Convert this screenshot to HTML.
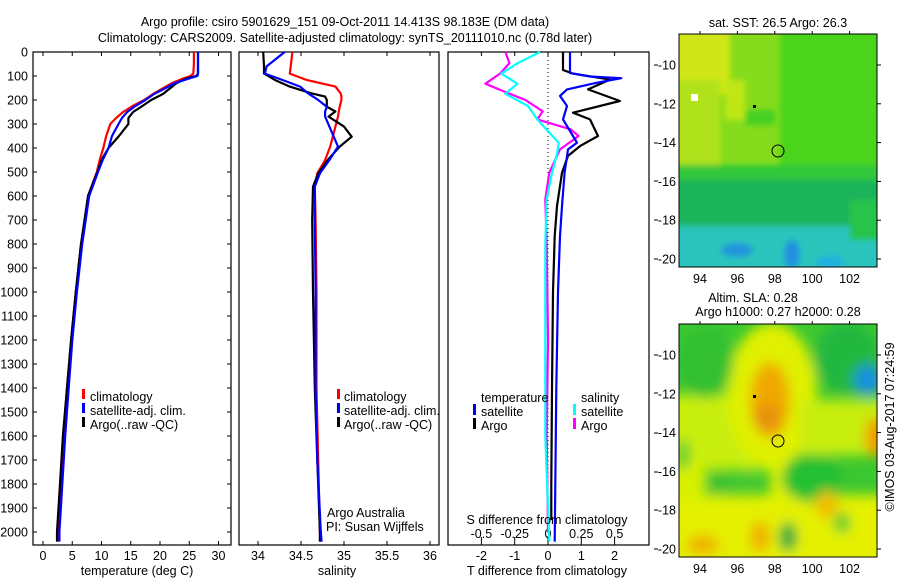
<!DOCTYPE html>
<html><head><meta charset="utf-8"><style>
html,body{margin:0;padding:0;background:#fff;}
svg{display:block;font-family:"Liberation Sans",sans-serif;}
text{font-size:12.5px;fill:#000;}
</style></head><body>
<svg id="chart" width="900" height="580" viewBox="0 0 900 580">
<defs>
<filter id="blur6" filterUnits="userSpaceOnUse" x="600" y="0" width="300" height="580"><feGaussianBlur stdDeviation="6"/></filter>
<filter id="blur3" filterUnits="userSpaceOnUse" x="600" y="0" width="300" height="580"><feGaussianBlur stdDeviation="3"/></filter>
<clipPath id="clipTop"><rect x="679" y="34" width="198" height="233"/></clipPath>
<clipPath id="clipBot"><rect x="679" y="324" width="198" height="233"/></clipPath>
</defs>
<text x="345" y="26" text-anchor="middle">Argo profile: csiro 5901629_151 09-Oct-2011 14.413S 98.183E (DM data)</text>
<text x="345" y="42" text-anchor="middle">Climatology: CARS2009. Satellite-adjusted climatology: synTS_20111010.nc (0.78d later)</text>
<g id="axes"></g>
<g id="series"></g>

<!-- top map -->
<g clip-path="url(#clipTop)">
<rect x="679" y="34" width="198" height="233" fill="#86dc1c"/>
<g filter="url(#blur3)">
<rect x="780" y="20" width="110" height="150" fill="#4cd41c"/>
<rect x="665" y="20" width="65" height="75" fill="#d0e614"/>
<rect x="665" y="80" width="55" height="100" fill="#b0e21a"/>
<rect x="725" y="80" width="20" height="40" fill="#c0e618"/>
<rect x="745" y="110" width="30" height="15" fill="#44d020"/>
<rect x="665" y="165" width="230" height="18" fill="#32c83a"/>
<rect x="665" y="180" width="230" height="50" fill="#1eb45a"/>
<rect x="665" y="226" width="230" height="60" fill="#2cc4bc"/>
<rect x="850" y="200" width="40" height="40" fill="#26c44a"/>
<ellipse cx="737" cy="250" rx="16" ry="7" fill="#2496dc"/>
<ellipse cx="792" cy="254" rx="8" ry="14" fill="#2090e0"/>
<ellipse cx="830" cy="262" rx="14" ry="6" fill="#20b0e0"/>
</g>
<rect x="691" y="94" width="7" height="7" fill="#fff"/>
</g>
<rect x="679" y="34" width="198" height="233" fill="none" stroke="#000"/>
<circle cx="778" cy="151" r="6" fill="none" stroke="#000"/>
<rect x="753" y="105" width="3" height="3" fill="#000"/>
<text x="778" y="27" text-anchor="middle">sat. SST: 26.5 Argo: 26.3</text>

<!-- bottom map -->
<g clip-path="url(#clipBot)">
<rect x="679" y="324" width="198" height="233" fill="#3cc830"/>
<g filter="url(#blur6)">
<rect x="665" y="395" width="125" height="75" fill="#c8ee10"/>
<ellipse cx="772" cy="395" rx="45" ry="72" fill="#e0f000"/>
<rect x="665" y="495" width="230" height="80" fill="#e4f000"/>
<rect x="770" y="455" width="20" height="45" fill="#e0f000"/>
<rect x="665" y="462" width="40" height="40" fill="#d8f000"/>
<rect x="800" y="400" width="90" height="55" fill="#c8ee10"/>
<ellipse cx="770" cy="400" rx="20" ry="38" fill="#f0a800"/>
<ellipse cx="767" cy="418" rx="14" ry="14" fill="#e89010"/>
<ellipse cx="877" cy="437" rx="12" ry="20" fill="#f09c00"/>
<ellipse cx="847" cy="358" rx="32" ry="36" fill="#20b840"/>
<ellipse cx="705" cy="362" rx="28" ry="36" fill="#30c030"/>
<ellipse cx="812" cy="478" rx="30" ry="24" fill="#20c030"/>
<ellipse cx="868" cy="380" rx="14" ry="15" fill="#1890e0"/>
<ellipse cx="703" cy="545" rx="16" ry="10" fill="#f0b000"/>
<ellipse cx="760" cy="537" rx="10" ry="16" fill="#f0b000"/>
<ellipse cx="827" cy="505" rx="12" ry="14" fill="#f0c000"/>
<ellipse cx="718" cy="483" rx="11" ry="11" fill="#30c030"/>
<ellipse cx="748" cy="480" rx="8" ry="8" fill="#40c830"/>
<ellipse cx="683" cy="455" rx="6" ry="16" fill="#40c830"/>
<ellipse cx="788" cy="537" rx="9" ry="15" fill="#18a840"/>
<ellipse cx="842" cy="523" rx="8" ry="10" fill="#40c830"/>
</g>
</g>
<rect x="679" y="324" width="198" height="233" fill="none" stroke="#000"/>
<circle cx="778" cy="441" r="6" fill="none" stroke="#000"/>
<rect x="753" y="395" width="3" height="3" fill="#000"/>
<text x="753" y="302" text-anchor="middle">Altim. SLA: 0.28</text>
<text x="778" y="316" text-anchor="middle">Argo h1000: 0.27 h2000: 0.28</text>
<text transform="translate(894,427) rotate(-90)" text-anchor="middle">©IMOS 03-Aug-2017 07:24:59</text>

<!-- legends -->
<g>
<rect x="82" y="389" width="3" height="10" fill="#f00"/><text x="90" y="401">climatology</text>
<rect x="82" y="403" width="3" height="10" fill="#00f"/><text x="90" y="415">satellite-adj. clim.</text>
<rect x="82" y="417" width="3" height="10" fill="#000"/><text x="90" y="429">Argo(..raw -QC)</text>
</g>
<g>
<rect x="337" y="389" width="3" height="10" fill="#f00"/><text x="344" y="401">climatology</text>
<rect x="337" y="403" width="3" height="10" fill="#00f"/><text x="344" y="415">satellite-adj. clim.</text>
<rect x="337" y="417" width="3" height="10" fill="#000"/><text x="344" y="429">Argo(..raw -QC)</text>
<text x="327" y="517">Argo Australia</text>
<text x="326" y="531">PI: Susan Wijffels</text>
</g>
<g>
<text x="481" y="402">temperature</text><text x="581" y="402">salinity</text>
<rect x="473" y="404" width="3" height="11" fill="#00f"/><text x="481" y="416">satellite</text>
<rect x="573" y="404" width="3" height="11" fill="#0ff"/><text x="581" y="416">satellite</text>
<rect x="473" y="418" width="3" height="11" fill="#000"/><text x="481" y="430">Argo</text>
<rect x="573" y="418" width="3" height="11" fill="#f0f"/><text x="581" y="430">Argo</text>
</g>
<text x="137" y="575" text-anchor="middle">temperature (deg C)</text>
<text x="337" y="575" text-anchor="middle">salinity</text>
<text x="547" y="575" text-anchor="middle">T difference from climatology</text>
<text x="547" y="524" text-anchor="middle">S difference from climatology</text>
</svg>
<script>
// ---- data ----
const tDepth=[0,50,90,100,110,130,150,175,200,225,250,275,300,350,400,450,500,600,700,800,1000,1200,1400,1600,1800,2000,2040];
const tClim=[25.8,25.8,25.7,25.2,24,22,20.6,18.8,17.3,15.3,13.7,12.5,11.5,10.8,10.3,9.7,9.2,7.7,7.2,6.5,5.6,4.8,4.1,3.5,3.0,2.5,2.5];
const tSat=[26.5,26.5,26.5,26.4,25,22.5,21,19,17.5,15.8,14.4,13.5,12.9,11.8,11.2,10.2,9.4,7.9,7.3,6.7,5.8,5.0,4.4,3.8,3.3,2.8,2.8];
const tArgo=[26.5,26.5,26.5,26.2,24.5,22.8,21.8,20.5,18.5,17,15.4,14.6,14.6,13,11.2,10,9.3,7.7,7.1,6.5,5.6,4.8,4.1,3.4,2.9,2.4,2.4];
const sDepth=[0,60,90,117,144,172,186,200,228,248,269,311,353,394,450,506,561,700,1000,1400,1700,2000,2040];
const sClim=[34.4,34.38,34.37,34.57,34.9,34.96,34.97,34.97,34.95,34.94,34.93,34.9,34.87,34.84,34.78,34.69,34.66,34.67,34.68,34.68,34.7,34.72,34.73];
const sSat=[34.31,34.1,34.08,34.29,34.49,34.58,34.64,34.7,34.8,34.78,34.78,34.83,34.88,34.93,34.83,34.72,34.66,34.66,34.67,34.67,34.69,34.73,34.74];
const sArgo=[34.06,34.07,34.07,34.2,34.37,34.62,34.78,34.8,34.8,34.9,34.82,35.0,35.09,34.95,34.81,34.7,34.64,34.63,34.64,34.66,34.69,34.72,34.72];
const dtSatDepth=[0,88,102,109,128,156,183,225,281,350,378,406,503,642,767,1000,1400,1800,2040];
const dtSat=[0.66,0.66,1.26,2.2,1.47,0.57,0.36,0.57,0.45,0.75,0.87,0.6,0.5,0.42,0.36,0.3,0.25,0.22,0.2];
const dtArgoDepth=[0,75,90,115,156,204,253,281,350,392,433,503,642,767,1000,1400,1800,1950];
const dtArgo=[0.45,0.45,0.75,1.86,1.2,2.16,0.75,1.26,1.5,0.96,0.6,0.42,0.27,0.2,0.15,0.12,0.1,0.1];
const dsArgoDepth=[0,47,90,132,160,200,247,281,322,350,406,503,614,800,1200,1600,2000];
const dsArgo=[-0.32,-0.29,-0.36,-0.47,-0.35,-0.17,-0.04,-0.08,0.17,0.23,0.09,0.01,-0.02,-0.01,0,-0.01,0];
const dsSatDepth=[0,47,90,132,174,225,281,336,378,420,503,614,800,1200,1600,2040];
const dsSat=[-0.06,-0.23,-0.35,-0.23,-0.32,-0.15,-0.08,0.01,0.08,0.07,0.03,-0.01,-0.02,-0.02,-0.02,0.01];
const depthTicks=[0,100,200,300,400,500,600,700,800,900,1000,1100,1200,1300,1400,1500,1600,1700,1800,1900,2000];
const tempTicks=[0,5,10,15,20,25,30];
const salTicks=[34,34.5,35,35.5,36];
const tdTicks=[-2,-1,0,1,2];
const sdTickLabels=["-0.5","-0.25","0","0.25","0.5"];
const sdTicks=[-0.5,-0.25,0,0.25,0.5];
const latTicks=[-10,-12,-14,-16,-18,-20];
const lonTicks=[94,96,98,100,102];

// ---- scales ----
const yD=d=>52+d*0.24;
const xT=t=>43+t*5.85;
const xS=s=>258+(s-34)*86;
const xDT=v=>548+v*33.3;
const xDS=v=>548+v*133.2;
const xLon=l=>700+(l-94)*18.7;
const yLatTop=l=>65+(-10-l)*19.4;
const yLatBot=l=>355+(-10-l)*19.4;

const NS="http://www.w3.org/2000/svg";
const axes=document.getElementById('axes'), ser=document.getElementById('series');
function mk(tag,attrs,parent){const e=document.createElementNS(NS,tag);for(const k in attrs)e.setAttribute(k,attrs[k]);parent.appendChild(e);return e;}

const panels=[[33,231,'temperature-panel'],[239,439,'salinity-panel'],[448,649,'difference-panel']];
panels.forEach(p=>{
 const r=mk('rect',{x:p[0],y:52,width:p[1]-p[0],height:493,fill:'none',stroke:'#000','stroke-width':1.2},axes);
 
 
});
depthTicks.forEach(d=>{
 const y=yD(d);
 mk('line',{x1:33,x2:37,y1:y,y2:y,stroke:'#000'},axes);
 mk('line',{x1:227,x2:231,y1:y,y2:y,stroke:'#000'},axes);
 const t=mk('text',{x:28,y:y+4.5,'text-anchor':'end'},axes);t.textContent=d;
 
 
});
tempTicks.forEach(v=>{
 const x=xT(v);
 mk('line',{x1:x,x2:x,y1:52,y2:56,stroke:'#000'},axes);
 mk('line',{x1:x,x2:x,y1:541,y2:545,stroke:'#000'},axes);
 const t=mk('text',{x:x,y:560,'text-anchor':'middle'},axes);t.textContent=v;
 
 
});
salTicks.forEach(v=>{
 const x=xS(v);
 mk('line',{x1:x,x2:x,y1:52,y2:56,stroke:'#000'},axes);
 mk('line',{x1:x,x2:x,y1:541,y2:545,stroke:'#000'},axes);
 const t=mk('text',{x:x,y:560,'text-anchor':'middle'},axes);t.textContent=v;
 
 
});
tdTicks.forEach(v=>{
 const x=xDT(v);
 mk('line',{x1:x,x2:x,y1:52,y2:56,stroke:'#000'},axes);
 mk('line',{x1:x,x2:x,y1:541,y2:545,stroke:'#000'},axes);
 const t=mk('text',{x:x,y:560,'text-anchor':'middle'},axes);t.textContent=v;
 
 
});
sdTicks.forEach((v,i)=>{
 const x=xDS(v);
 mk('line',{x1:x,x2:x,y1:537,y2:541,stroke:'#000'},axes);
 const t=mk('text',{x:x,y:538,'text-anchor':'middle'},axes);t.textContent=sdTickLabels[i];
 
 
});
[65,104,143,181,220,259,355,393,433,472,510,549].forEach(y=>mk('line',{x1:654,x2:658,y1:y,y2:y,stroke:'#000'},axes));
mk('line',{x1:548,x2:548,y1:52,y2:545,stroke:'#000','stroke-dasharray':'1,3'},axes);

latTicks.forEach(l=>{
 [[yLatTop(l),'sst'],[yLatBot(l),'sla']].forEach(([y,m])=>{
  mk('line',{x1:877,x2:881,y1:y,y2:y,stroke:'#000'},axes);
  const t=mk('text',{x:676,y:y+4.5,'text-anchor':'end'},axes);t.textContent=l;
  
  
 });
});
lonTicks.forEach(l=>{
 const x=xLon(l);
 [[34,283,'sst'],[324,573,'sla']].forEach(([yt,yl,m])=>{
  mk('line',{x1:x,x2:x,y1:yt-3,y2:yt,stroke:'#000'},axes);
  const t=mk('text',{x:x,y:yl,'text-anchor':'middle'},axes);t.textContent=l;
  
  
 });
});

function line(depths,vals,xf,color,name){
 const d=vals.map((v,i)=>(i?'L':'M')+xf(v).toFixed(1)+','+yD(depths[i]).toFixed(1)).join('');
 const p=mk('path',{d:d,fill:'none',stroke:color,'stroke-width':2.2,'stroke-linejoin':'round'},ser);
 
 
}
line(tDepth,tClim,xT,'#f00','temperature-climatology-line');
line(tDepth,tArgo,xT,'#000','temperature-argo-line');
line(tDepth,tSat,xT,'#00f','temperature-satellite-line');
line(sDepth,sClim,xS,'#f00','salinity-climatology-line');
line(sDepth,sArgo,xS,'#000','salinity-argo-line');
line(sDepth,sSat,xS,'#00f','salinity-satellite-line');
line(dsArgoDepth,dsArgo,xDS,'#f0f','s-diff-argo-line');
line(dsSatDepth,dsSat,xDS,'#0ff','s-diff-satellite-line');
line(dtArgoDepth,dtArgo,xDT,'#000','t-diff-argo-line');
line(dtSatDepth,dtSat,xDT,'#00f','t-diff-satellite-line');
</script>
</body></html>
